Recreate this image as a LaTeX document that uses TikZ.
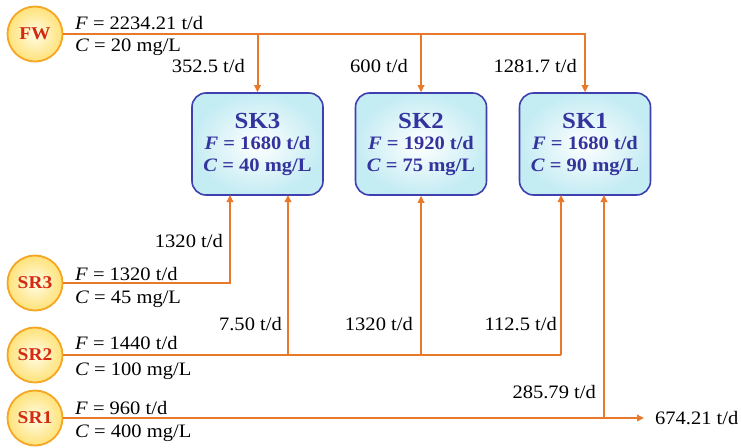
\documentclass[tikz,border=0pt]{standalone}
\usepackage{fontspec}
\setmainfont[FakeStretch=1.08]{Liberation Serif}
\usetikzlibrary{arrows.meta}
\definecolor{flowc}{HTML}{E8782A}
\definecolor{srcborder}{HTML}{F5A623}
\definecolor{srcin}{HTML}{FFFDE6}
\definecolor{srcout}{HTML}{FFE27A}
\definecolor{srctext}{HTML}{D42A12}
\definecolor{skborder}{HTML}{3F3FB0}
\definecolor{skin}{HTML}{FFFFFF}
\definecolor{skout}{HTML}{C4ECF3}
\definecolor{sktext}{HTML}{34349E}
\begin{document}
\begin{tikzpicture}[x=1pt,y=-1pt,
  flow/.style={draw=flowc, line width=2pt},
  tip/.style={-{Triangle[length=7pt,width=6.5pt]}},
  src/.style={circle, draw=srcborder, line width=1.8pt, inner color=srcin, outer color=srcout,
    minimum size=55pt, inner sep=0pt, text=srctext, font=\fontsize{18}{20}\selectfont\bfseries},
  sink/.style={rounded corners=14pt, draw=skborder, line width=1.6pt, inner color=skin, outer color=skout,
    minimum width=131pt, minimum height=102pt, inner sep=0pt, align=center, text=sktext,
    font=\fontsize{19}{22}\selectfont\bfseries},
  lab/.style={inner sep=0pt, font=\fontsize{19}{22}\selectfont}
]
\useasboundingbox (0,0) rectangle (741,447);

% sinks
\node[sink] (sk3) at (257.5,144) {{\fontsize{23}{24}\selectfont SK3}\\[-1pt]\textit{F} = 1680 t/d\\\textit{C} = 40 mg/L};
\node[sink] (sk2) at (421,144) {{\fontsize{23}{24}\selectfont SK2}\\[-1pt]\textit{F} = 1920 t/d\\\textit{C} = 75 mg/L};
\node[sink] (sk1) at (585,144) {{\fontsize{23}{24}\selectfont SK1}\\[-1pt]\textit{F} = 1680 t/d\\\textit{C} = 90 mg/L};

% junction coordinates on sink bottoms
\coordinate (k3a) at (230,195);
\coordinate (k3b) at (288,195);
\coordinate (k1a) at (561,195);
\coordinate (k1b) at (604,195);

% sources
\node[src] (fw) at (35,34) {FW};
\node[src] (sr3) at (35,283) {SR3};
\node[src] (sr2) at (35,355) {SR2};
\node[src] (sr1) at (35,418) {SR1};

% output
\node[lab, anchor=west] (out) at (655,418) {674.21 t/d};

% FW flows
\draw[flow, tip] (fw.east) -- (fw -| sk1) -- (sk1.north);
\draw[flow, tip] (fw -| sk3) -- (sk3.north);
\draw[flow, tip] (fw -| sk2) -- (sk2.north);

% SR3
\draw[flow, tip] (sr3.east) -- (sr3 -| k3a) -- (k3a);

% SR2
\draw[flow] (sr2.east) -- (sr2 -| k1a);
\draw[flow, tip] (sr2 -| k3b) -- (k3b);
\draw[flow, tip] (sr2 -| sk2) -- (sk2.south);
\draw[flow, tip] (sr2 -| k1a) -- (k1a);

% SR1
\draw[flow, tip, shorten >=11pt] (sr1.east) -- (out.west);
\draw[flow, tip] (sr1 -| k1b) -- (k1b);

% stream labels
\node[lab, anchor=base west] (fwf) at (75,29) {\textit{F} = 2234.21 t/d};
\node[lab, anchor=base west] (fwc) at (75,51) {\textit{C} = 20 mg/L};
\node[lab, anchor=base west] (sr3f) at (75,280) {\textit{F} = 1320 t/d};
\node[lab, anchor=base west] (sr3c) at (75,303) {\textit{C} = 45 mg/L};
\node[lab, anchor=base west] (sr2f) at (75,349) {\textit{F} = 1440 t/d};
\node[lab, anchor=base west] (sr2c) at (75,375) {\textit{C} = 100 mg/L};
\node[lab, anchor=base west] (sr1f) at (75,414) {\textit{F} = 960 t/d};
\node[lab, anchor=base west] (sr1c) at (75,437) {\textit{C} = 400 mg/L};

% branch labels
\node[lab, anchor=base east] (l1) at (245,72) {352.5 t/d};
\node[lab, anchor=base east] (l2) at (408,72) {600 t/d};
\node[lab, anchor=base east] (l3) at (577,72) {1281.7 t/d};
\node[lab, anchor=base east] (l4) at (223,247) {1320 t/d};
\node[lab, anchor=base east] (l5) at (282,330) {7.50 t/d};
\node[lab, anchor=base east] (l6) at (413,330) {1320 t/d};
\node[lab, anchor=base east] (l7) at (557,330) {112.5 t/d};
\node[lab, anchor=base east] (l8) at (596,398) {285.79 t/d};
\end{tikzpicture}
\end{document}
